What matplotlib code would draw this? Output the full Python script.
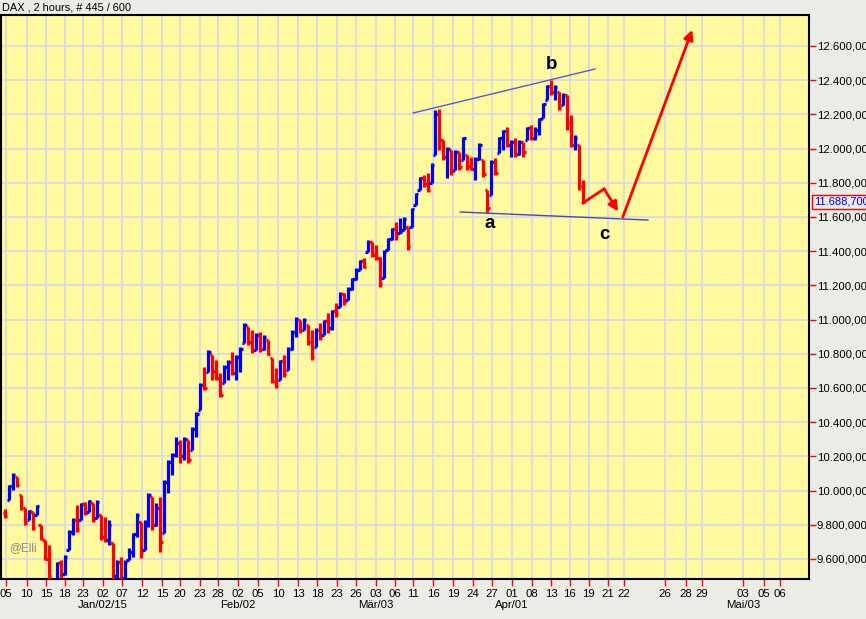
import numpy as np
import matplotlib
matplotlib.use("Agg")
import matplotlib.pyplot as plt
from matplotlib.collections import LineCollection
from matplotlib.transforms import blended_transform_factory

plt.rcParams['font.family'] = ['Liberation Sans', 'DejaVu Sans']

first_open = 9870
highs = [9890, 10032, 10103, 10080, 9974, 9898, 9887, 9875, 9916, 9799,
         9711, 9682, 9470, 9583, 9594, 9623, 9770, 9840, 9916, 9927,
         9933, 9945, 9927, 9945, 9857, 9846, 9828, 9694, 9594, 9611,
         9594, 9665, 9752, 9870, 9816, 9828, 9986, 9962, 9930, 9962,
         10062, 10179, 10220, 10313, 10296, 10313, 10296, 10372, 10460, 10629,
         10723, 10822, 10793, 10764, 10688, 10735, 10764, 10811, 10793, 10840,
         10980, 10957, 10939, 10922, 10928, 10910, 10881, 10775, 10717, 10764,
         10793, 10840, 10939, 11015, 10998, 11009, 10968, 10939, 10951, 10980,
         10998, 11039, 11056, 11097, 11161, 11156, 11191, 11243, 11302, 11349,
         11360, 11465, 11454, 11436, 11366, 11407, 11477, 11536, 11571, 11594,
         11600, 11542, 11653, 11740, 11834, 11846, 11857, 11916, 12226, 12232,
         12050, 12009, 11992, 11992, 11980, 12068, 11963, 11951, 11951, 12033,
         11933, 11758, 11933, 11945, 12068, 12109, 12126, 12050, 12062, 12050,
         12039, 12126, 12138, 12126, 12179, 12267, 12372, 12401, 12372, 12331,
         12325, 12313, 12196, 12080, 12021, 11816]
lows = [9840, 9945, 10003, 10020, 9887, 9799, 9828, 9770, 9857, 9711,
        9594, 9477, 9400, 9470, 9489, 9506, 9653, 9740, 9758, 9828,
        9857, 9875, 9816, 9840, 9711, 9700, 9682, 9477, 9477, 9477,
        9489, 9594, 9611, 9729, 9606, 9653, 9787, 9770, 9790, 9641,
        9752, 9986, 10090, 10197, 10161, 10179, 10161, 10237, 10313, 10471,
        10588, 10694, 10647, 10647, 10547, 10629, 10647, 10676, 10647, 10694,
        10863, 10851, 10805, 10822, 10810, 10822, 10793, 10629, 10600, 10647,
        10664, 10705, 10822, 10898, 10922, 10939, 10851, 10764, 10840, 10881,
        10910, 10922, 10939, 11015, 11074, 11085, 11115, 11173, 11232, 11290,
        11302, 11395, 11366, 11349, 11191, 11243, 11407, 11465, 11465, 11506,
        11524, 11407, 11542, 11670, 11758, 11775, 11746, 11799, 11963, 11992,
        11933, 11828, 11846, 11875, 11875, 11933, 11875, 11875, 11816, 11933,
        11834, 11623, 11729, 11846, 11974, 11992, 12009, 11951, 11951, 11963,
        11951, 12050, 12050, 12050, 12080, 12179, 12284, 12313, 12284, 12226,
        12255, 12109, 12009, 11992, 11758, 11682]
closes = [9850, 10025, 10090, 10030, 9900, 9810, 9880, 9780, 9910, 9720,
          9600, 9500, 9420, 9575, 9510, 9610, 9760, 9830, 9770, 9920,
          9870, 9940, 9830, 9935, 9730, 9710, 9800, 9500, 9580, 9490,
          9580, 9640, 9745, 9860, 9640, 9810, 9975, 9800, 9900, 9700,
          10050, 10170, 10210, 10280, 10200, 10300, 10180, 10360, 10450, 10620,
          10600, 10810, 10700, 10660, 10560, 10725, 10750, 10690, 10780, 10830,
          10970, 10870, 10820, 10910, 10830, 10900, 10800, 10640, 10610, 10755,
          10680, 10830, 10930, 11005, 10940, 11000, 10870, 10780, 10940, 10900,
          10990, 10950, 11050, 11030, 11150, 11100, 11180, 11235, 11290, 11340,
          11310, 11455, 11380, 11360, 11210, 11395, 11470, 11530, 11490, 11510,
          11590, 11430, 11645, 11735, 11825, 11790, 11760, 11905, 12200, 12050,
          11950, 12000, 11870, 11980, 11890, 12060, 11900, 11880, 11940, 12020,
          11850, 11650, 11920, 11860, 12060, 12100, 12020, 12040, 11970, 12040,
          11980, 12120, 12060, 12110, 12170, 12260, 12365, 12330, 12360, 12240,
          12315, 12150, 12020, 12060, 11780, 11690]
last_price = 11688.7

# Zeitachse (Bar-Index) und Beschriftungen
tick_pos = [0.25, 5.5, 10.3, 15.0, 19.6, 24.6, 29.4, 34.4, 39.4, 43.9,
            48.9, 53.4, 58.5, 63.5, 68.5, 73.5, 78.3, 83.3, 88.1, 93.1,
            97.8, 102.4, 107.4, 112.4, 117.4, 122.2, 127.2, 132.2, 137.0, 141.7,
            146.5, 151.3, 155.3, 165.6, 170.9, 174.9, 185.2, 190.4, 194.4]
tick_lab = ['05', '10', '15', '18', '23', '02', '07', '12', '15', '20',
            '23', '28', '02', '05', '10', '13', '18', '23', '26', '03',
            '06', '11', '16', '19', '24', '27', '01', '08', '13', '16',
            '19', '21', '22', '26', '28', '29', '03', '05', '06']
month_pos = [24.6, 58.5, 93.1, 127.2, 185.2]
month_lab = ['Jan/02/15', 'Feb/02', 'Mär/03', 'Apr/01', 'Mai/03']

# Elliott-Zeichnungen
upper_x, upper_y = [102.4, 148.0], [12208, 12465]
lower_x, lower_y = [114.2, 161.3], [11629, 11582]
wave_x, wave_y = [145.0, 150.3, 153.8], [11682, 11764, 11632]
up_x, up_y = [155.0, 172.4], [11600, 12694]
wave_lab = ['a', 'b', 'c']
wave_lab_x = [121.7, 137.0, 150.3]
wave_lab_y = [11559, 12489, 11495]

# === Grafik ===
fig = plt.figure(figsize=(8.66, 6.19), dpi=100, facecolor='#ECECE7')
ax = fig.add_axes([1/866, 40/619, 808/866, 564/619])
ax.set_facecolor('#FFFA9E')
ax.set_xlim(-1.0, 201.7)
ax.set_ylim(9483, 12781)

n = len(closes)
xs = np.arange(n)
opens = [first_open] + closes[:-1]
segs, cols = [], []
for i in range(n):
    o = min(max(opens[i], lows[i]), highs[i])
    c = 'blue' if closes[i] > opens[i] else 'red'
    segs.append([(xs[i], lows[i]), (xs[i], highs[i])])
    segs.append([(xs[i] - 0.6, o), (xs[i], o)])
    segs.append([(xs[i], closes[i]), (xs[i] + 0.6, closes[i])])
    cols += [c, c, c]
ax.add_collection(LineCollection(segs, colors=cols, linewidths=2.3, zorder=3))

# Trendlinien
ax.plot(upper_x, upper_y, color='#5a5ad0', lw=1, zorder=4)
ax.plot(lower_x, lower_y, color='#4848c0', lw=1, zorder=4)

# Prognosepfeile
ax.plot(wave_x[:2], wave_y[:2], color='red', lw=2, zorder=5)
ax.annotate('', xy=(wave_x[2], wave_y[2]), xytext=(wave_x[1], wave_y[1]),
            arrowprops=dict(arrowstyle='-|>', color='red', lw=2,
                            mutation_scale=14, shrinkA=0, shrinkB=0), zorder=5)
ax.annotate('', xy=(up_x[1], up_y[1]), xytext=(up_x[0], up_y[0]),
            arrowprops=dict(arrowstyle='-|>', color='red', lw=2,
                            mutation_scale=14, shrinkA=0, shrinkB=0), zorder=5)

for lab, lx, ly in zip(wave_lab, wave_lab_x, wave_lab_y):
    ax.text(lx, ly, lab, fontsize=13.5, fontweight='bold', ha='center',
            va='center', color='black', zorder=6)

ax.text(0.01, 0.055, '@Elli', transform=ax.transAxes, fontsize=8.5,
        color='#8a8a8a', va='center', ha='left')

# Achsen
yt = np.arange(9600, 12601, 200)
ax.set_yticks(yt)
ax.set_yticklabels([f"{v:,.3f}".replace(',', 'X').replace('.', ',').replace('X', '.')
                    for v in yt])
ax.yaxis.tick_right()
ax.tick_params(axis='y', colors='red', labelcolor='black', length=5,
               width=1, labelsize=8.2, pad=0.5)
ax.set_xticks(tick_pos)
ax.set_xticklabels(tick_lab)
ax.tick_params(axis='x', colors='red', labelcolor='black', length=5,
               width=1, labelsize=8.2, pad=2)
ax.grid(True, color='#D8D8E6', lw=1.2)
ax.set_axisbelow(True)
for s in ax.spines.values():
    s.set_color('black')
    s.set_linewidth(1.5)

trans = blended_transform_factory(ax.transData, ax.transAxes)
for mx, ml in zip(month_pos, month_lab):
    ax.text(mx, -0.046, ml, transform=trans, ha='center', va='center',
            fontsize=8.2, color='black')

fig.text(2/866, 1 - 8/619, 'DAX , 2 hours, # 445 / 600', fontsize=7.9,
         va='center', ha='left')
fig.text(814/866, 1 - 202/619,
         f"{last_price:,.3f}".replace(',', 'X').replace('.', ',').replace('X', '.'),
         fontsize=8, color='blue', va='center', ha='left',
         bbox=dict(facecolor='none', edgecolor='red', pad=1.2, lw=1))

fig.savefig('out.png', dpi=100, facecolor=fig.get_facecolor())
